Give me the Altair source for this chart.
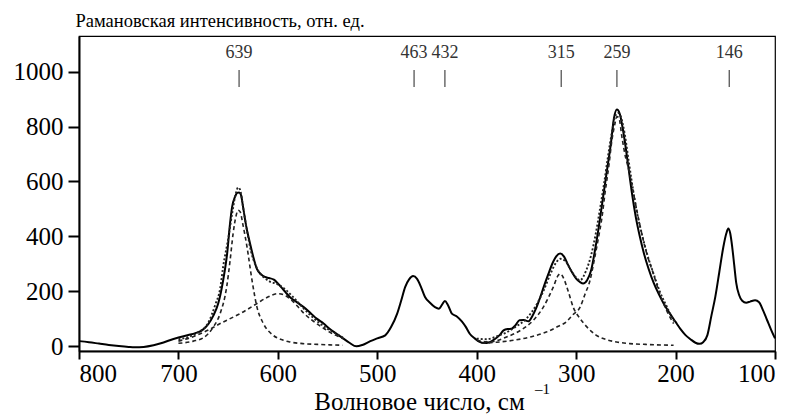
import altair as alt
import pandas as pd

# ---- measured spectrum (wavenumber, intensity) ----
main_wn = [800, 790, 780, 770, 760, 750, 744, 735, 725, 715, 705, 700, 690, 683, 676, 670, 665, 660, 655, 651,
           648, 646, 643, 641, 639, 637, 635, 632, 628, 624, 621, 617, 613, 609, 604, 600, 596, 592, 588, 581,
           574, 567, 561, 554, 548, 541, 534, 528, 521, 515, 507, 500, 492, 486, 480, 476, 472, 468, 464, 460,
           456, 452, 447, 442, 438, 435, 432, 429, 425, 420, 415, 411, 407, 402, 397, 393, 387, 382, 377, 373,
           369, 365, 361, 357, 353, 348, 344, 340, 336, 332, 328, 324, 320, 316, 312, 308, 304, 300, 296, 293,
           289, 285, 281, 277, 273, 269, 265, 262, 259, 256, 253, 250, 247, 244, 240, 236, 232, 227, 222, 217,
           212, 206, 200, 195, 190, 185, 180, 176, 172, 168, 164, 160, 156, 152, 149, 147, 145, 143, 141, 139,
           136, 133, 129, 125, 120, 116, 112, 108, 104, 100]
main_val = [18, 14, 9, 4, 0, -3, -4, -3, 3, 13, 26, 31, 40, 47, 58, 80, 110, 155, 240, 337,
            450, 507, 545, 558, 560, 550, 507, 440, 374, 315, 280, 262, 252, 248, 242, 228, 212, 195, 179, 160,
            142, 120, 100, 82, 63, 45, 27, 12, -1, 4, 18, 28, 39, 70, 118, 165, 215, 243, 255, 245,
            215, 179, 158, 142, 136, 150, 164, 150, 118, 108, 90, 70, 45, 28, 15, 11, 14, 25, 40, 57,
            62, 63, 76, 94, 95, 90, 110, 140, 179, 222, 262, 300, 327, 337, 325, 295, 268, 246, 233, 228,
            240, 275, 350, 440, 540, 640, 740, 830, 862, 845, 790, 720, 640, 560, 470, 400, 340, 280, 230, 190,
            155, 120, 88, 62, 40, 25, 12, 8, 15, 40, 110, 180, 270, 360, 410, 428, 410, 360, 295, 230,
            185, 165, 158, 162, 167, 160, 130, 95, 60, 28]

# ---- fitted components, band 700-535 ----
c639_wn = [700, 685, 675, 665, 658, 651.5, 648, 645, 642, 640, 638, 635, 631, 626, 621, 615, 605, 595, 588, 575, 560, 545, 535]
c639_val = [10, 18, 30, 69, 119, 215, 313, 410, 475, 495, 490, 440, 361, 240, 142, 85, 40, 22, 15, 9, 6, 4, 3]

c600_wn = [700, 690, 678, 668, 658, 648, 638, 630, 621, 611, 600, 593, 588, 581, 574, 567, 561, 554, 548, 541, 534]
c600_val = [18, 28, 45, 62, 82, 100, 118, 135, 155, 177, 191, 185, 173, 148, 120, 98, 82, 65, 51, 38, 27]

sum1_wn = [700, 690, 680, 670, 663, 658, 655, 650, 646, 642, 640, 638, 635, 631, 627, 623, 619, 614, 608, 600,
           592, 585, 577, 568, 561, 553, 547, 540, 534]
sum1_val = [25, 33, 50, 85, 150, 210, 290, 390, 483, 560, 578, 570, 507, 420, 345, 300, 270, 250, 235, 225,
            205, 180, 148, 115, 92, 70, 56, 42, 30]

# ---- fitted components, band 400-200 ----
c315_wn = [400, 387, 370, 356, 343, 333, 323, 318, 316, 313, 308, 303, 296, 289, 280, 269, 258, 246, 230, 215, 202]
c315_val = [21, 15, 33, 57, 94, 142, 215, 258, 264, 250, 200, 142, 100, 69, 40, 23, 14, 9, 6, 4, 3]

c259_wn = [395, 380, 363, 345, 330, 318, 310, 303, 296, 291, 286, 282, 278, 274, 271, 267, 264, 261, 259, 257,
           254, 251, 247, 243, 239, 234, 229, 222, 216, 209, 202]
c259_val = [10, 14, 21, 34, 51, 72, 88, 115, 142, 190, 240, 310, 386, 470, 556, 660, 751, 810, 836, 832,
            763, 700, 641, 570, 495, 410, 337, 260, 191, 130, 82]

sum2_wn = [400, 390, 380, 370, 360, 350, 340, 333, 325, 320, 316, 311, 305, 300, 296, 290, 285, 280, 276, 272,
           268, 264, 261, 258, 255, 251, 247, 243, 239, 234, 229, 222, 216, 209, 203, 200]
sum2_val = [27, 25, 35, 50, 72, 100, 150, 200, 270, 305, 318, 310, 275, 250, 240, 275, 330, 415, 500, 590,
            690, 780, 835, 850, 835, 770, 670, 575, 490, 410, 340, 262, 200, 145, 100, 85]

# ---- peak annotations ----
peak_pos = [639, 463, 432, 315, 259, 146]
peak_lbl = ["639", "463", "432", "315", "259", "146"]

FONT = "Liberation Serif"

xs = alt.Scale(domain=[100, 800], reverse=True, nice=False, zero=False)
ys = alt.Scale(domain=[-18, 1130], nice=False, zero=False)

x_enc = alt.X("wn:Q", scale=xs, axis=alt.Axis(
    values=[100, 200, 300, 400, 500, 600, 700, 800], format="d",
    title="Волновое число, см", titleX=340, titleY=58, titleBaseline="alphabetic",
    titleAlign="center", titleFontSize=25))
y_enc = alt.Y("val:Q", scale=ys, axis=alt.Axis(
    values=[0, 200, 400, 600, 800, 1000], format="d",
    title="Рамановская интенсивность, отн. ед.", titleAngle=0, titleAlign="left",
    titleX=-4, titleY=-10, titleBaseline="alphabetic", titleFontSize=18.5))


def df(w, v):
    return pd.DataFrame({"wn": w, "val": v})


main = alt.Chart(df(main_wn, main_val)).mark_line(
    color="black", strokeWidth=2, interpolate="monotone").encode(x=x_enc, y=y_enc)


def dashed(w, v, dash, width):
    return alt.Chart(df(w, v)).mark_line(
        color="#222", strokeWidth=width, strokeDash=dash, interpolate="monotone").encode(
        x=alt.X("wn:Q", scale=xs), y=alt.Y("val:Q", scale=ys))


comps = [dashed(c639_wn, c639_val, [4, 3], 1.6), dashed(c600_wn, c600_val, [4, 3], 1.6),
         dashed(c315_wn, c315_val, [4, 3], 1.6), dashed(c259_wn, c259_val, [4, 3], 1.6),
         dashed(sum1_wn, sum1_val, [2, 2], 1.9), dashed(sum2_wn, sum2_val, [2, 2], 1.9)]

peaks = pd.DataFrame({"wn": peak_pos, "lbl": peak_lbl, "y1": [944] * 6, "y2": [1006] * 6, "yt": [1050] * 6})
rules = alt.Chart(peaks).mark_rule(color="#555", strokeWidth=1.3).encode(
    x=alt.X("wn:Q", scale=xs), y=alt.Y("y1:Q", scale=ys), y2="y2:Q")
labels = alt.Chart(peaks).mark_text(font=FONT, fontSize=18, color="#333", baseline="alphabetic").encode(
    x=alt.X("wn:Q", scale=xs), y=alt.Y("yt:Q", scale=ys), text="lbl:N")

# superscript "-1" of the x-axis unit
sup = alt.Chart(pd.DataFrame({"t": ["–1"]})).mark_text(
    font=FONT, fontSize=15, color="black", align="left", baseline="alphabetic", clip=False).encode(
    x=alt.value(456), y=alt.value(358), text="t:N")

chart = alt.layer(main, *comps, rules, labels, sup).properties(
    width=696, height=315, autosize="none",
    padding={"left": 71, "top": 28, "right": 20, "bottom": 66}
).configure_view(stroke="black", strokeWidth=1.2).configure_axis(
    labelFont=FONT, titleFont=FONT, labelFontSize=25, titleFontWeight="normal",
    labelColor="black", titleColor="black", domainColor="black", tickColor="black",
    domainWidth=2, tickWidth=2, grid=False, labelOverlap=False
).configure_axisX(tickSize=8, labelPadding=2).configure_axisY(tickSize=11, labelPadding=5)

chart.save("out.html", embed_options={"renderer": "svg", "actions": False})
